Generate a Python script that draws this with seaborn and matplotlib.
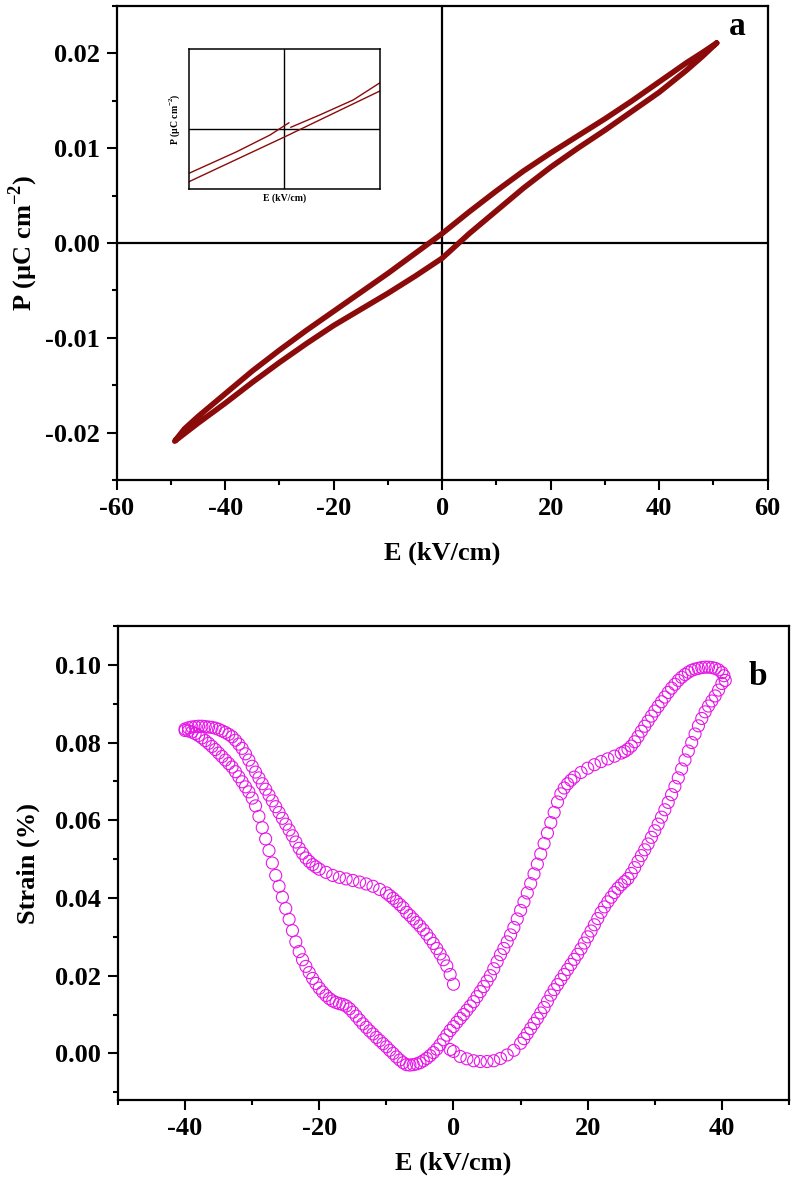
"""
P-E hysteresis loop (a) and strain-E butterfly loop (b)
"""
import matplotlib
matplotlib.use("Agg")
import matplotlib.pyplot as plt
from matplotlib.ticker import MultipleLocator, FormatStrFormatter
import seaborn as sns

# ---- panel a: P-E loop (kV/cm, uC/cm^2) ----
E_up = [50.6, 48, 45, 40, 35, 30, 25, 20, 15, 10, 5, 0, -5, -10, -15, -20,
        -25, -30, -35, -40, -45, -47.5, -49.3]
P_up = [0.0211, 0.0201, 0.0190, 0.0170, 0.0150, 0.0131, 0.0113, 0.0095, 0.0076,
        0.0055, 0.0033, 0.0010, -0.0011, -0.0032, -0.0052, -0.0072, -0.0092,
        -0.0113, -0.0135, -0.0159, -0.0183, -0.0196, -0.0209]
E_low = [-49.3, -47.5, -45, -40, -35, -30, -25, -20, -15, -10, -5, 0, 5, 10,
         15, 20, 25, 30, 35, 40, 45, 48, 50.6]
P_low = [-0.0209, -0.0201, -0.0190, -0.0169, -0.0147, -0.0126, -0.0106, -0.0087,
         -0.0070, -0.0053, -0.0035, -0.0016, 0.0010, 0.0034, 0.0058, 0.0080,
         0.0100, 0.0119, 0.0139, 0.0159, 0.0182, 0.0197, 0.0211]

# inset (zoom around origin, arbitrary units)
inset_E_up_left = [-10, -5.0, -1.5, 0.47]
inset_P_up_left = [-0.0022, -0.00112, -0.00028, 0.00033]
inset_E_up_right = [0.65, 3.7, 7.2, 10]
inset_P_up_right = [0.0001, 0.00072, 0.00147, 0.00233]
inset_E_low = [-10, 0.05, 10]
inset_P_low = [-0.00262, -0.00037, 0.00192]

# ---- panel b: strain loop, read branch by branch ----
E_b1 = [-0.5, 0, 1, 2, 3, 4, 5, 6, 7, 8, 9, 10, 10.5, 11, 11.5, 12, 12.5, 13,
        13.5, 14, 14.5, 15, 15.5, 16, 16.5, 17, 17.5, 18, 18.5, 19, 19.5, 20,
        20.5, 21, 21.5, 22, 22.5, 23, 23.5, 24, 24.5, 25, 25.5, 26, 26.5, 27,
        27.5, 28, 28.5, 29, 29.5, 30, 30.5, 31, 31.5, 32, 32.5, 33, 33.5, 34,
        34.5, 35, 35.5, 36, 36.5, 37, 37.5, 38, 38.5, 39, 39.5, 40]
S_b1 = [0.0010, 0.0005, -0.0008, -0.0014, -0.0019, -0.0021, -0.0021, -0.0019,
        -0.0013, -0.0004, 0.0008, 0.0026, 0.0038, 0.0051, 0.0064, 0.0077, 0.0090,
        0.0104, 0.0118, 0.0134, 0.0150, 0.0164, 0.0177, 0.0190, 0.0203, 0.0216,
        0.0229, 0.0242, 0.0255, 0.0269, 0.0284, 0.0300, 0.0315, 0.0331, 0.0347,
        0.0363, 0.0377, 0.0390, 0.0402, 0.0414, 0.0425, 0.0434, 0.0442, 0.0450,
        0.0463, 0.0478, 0.0494, 0.0509, 0.0524, 0.0539, 0.0556, 0.0573, 0.0590,
        0.0608, 0.0627, 0.0646, 0.0666, 0.0687, 0.0709, 0.0732, 0.0755, 0.0778,
        0.0800, 0.0822, 0.0843, 0.0862, 0.0879, 0.0894, 0.0907, 0.0920, 0.0935,
        0.0952]
E_b2 = [40.5, 40.3, 40, 39.5, 39, 38.5, 38, 37.5, 37, 36.5, 36, 35.5, 35, 34.5,
        34, 33.5, 33, 32.5, 32, 31.5, 31, 30.5, 30, 29.5, 29, 28.5, 28, 27.5, 27,
        26.5, 26, 25.5, 25, 24, 23, 22, 21, 20, 19, 18, 17.5, 17, 16.5, 16, 15.5,
        15, 14.5, 14, 13.5, 13, 12.5, 12, 11.5, 11, 10.5, 10, 9.5, 9, 8.5, 8, 7.5,
        7, 6.5, 6, 5.5, 5, 4.5, 4, 3.5, 3, 2.5, 2, 1.5, 1, 0.5, 0, -0.5, -1,
        -1.5, -2, -2.5, -3, -3.5, -4, -4.5, -5, -5.5, -6, -6.5, -7]
S_b2 = [0.0960, 0.0972, 0.0980, 0.0987, 0.0991, 0.0993, 0.0994, 0.0994, 0.0993,
        0.0991, 0.0989, 0.0986, 0.0981, 0.0975, 0.0968, 0.0960, 0.0950, 0.0940,
        0.0929, 0.0917, 0.0905, 0.0893, 0.0881, 0.0868, 0.0855, 0.0842, 0.0829,
        0.0815, 0.0802, 0.0791, 0.0783, 0.0777, 0.0773, 0.0765, 0.0758, 0.0751,
        0.0743, 0.0734, 0.0723, 0.0711, 0.0703, 0.0694, 0.0683, 0.0668, 0.0647,
        0.0620, 0.0594, 0.0567, 0.0540, 0.0513, 0.0487, 0.0462, 0.0437, 0.0413,
        0.0390, 0.0368, 0.0346, 0.0324, 0.0305, 0.0287, 0.0270, 0.0254, 0.0236,
        0.0218, 0.0200, 0.0186, 0.0172, 0.0159, 0.0146, 0.0133, 0.0122, 0.0111,
        0.0100, 0.0090, 0.0080, 0.0069, 0.0059, 0.0047, 0.0035, 0.0022, 0.0011,
        0.0002, -0.0006, -0.0013, -0.0019, -0.0024, -0.0027, -0.0029, -0.0030,
        -0.0029]
E_b3 = [-7.5, -8, -8.5, -9, -9.5, -10, -10.5, -11, -11.5, -12, -12.5, -13, -13.5,
        -14, -14.5, -15, -15.5, -16, -16.5, -17, -17.5, -18, -18.5, -19, -19.5,
        -20, -20.5, -21, -21.5, -22, -22.5, -23, -23.5, -24, -24.5, -25, -25.5,
        -26, -26.5, -27, -27.5, -28, -28.5, -29, -29.5, -30, -30.5, -31, -31.5,
        -32, -32.5, -33, -33.5, -34, -34.5, -35, -35.5, -36, -36.5, -37, -37.5,
        -38, -38.5, -39, -39.5, -40]
S_b3 = [-0.0024, -0.0017, -0.0009, 0.0000, 0.0008, 0.0017, 0.0025, 0.0033,
        0.0041, 0.0050, 0.0058, 0.0067, 0.0076, 0.0086, 0.0096, 0.0106, 0.0115,
        0.0122, 0.0126, 0.0128, 0.0131, 0.0135, 0.0141, 0.0149, 0.0158, 0.0168,
        0.0180, 0.0193, 0.0208, 0.0224, 0.0241, 0.0262, 0.0287, 0.0316, 0.0345,
        0.0373, 0.0402, 0.0430, 0.0458, 0.0490, 0.0522, 0.0552, 0.0581, 0.0610,
        0.0637, 0.0657, 0.0673, 0.0686, 0.0699, 0.0712, 0.0725, 0.0737, 0.0746,
        0.0755, 0.0764, 0.0773, 0.0782, 0.0790, 0.0798, 0.0805, 0.0812, 0.0818,
        0.0823, 0.0827, 0.0830, 0.0831]
E_b4 = [-40, -39.5, -39, -38.5, -38, -37.5, -37, -36.5, -36, -35.5, -35, -34.5,
        -34, -33.5, -33, -32.5, -32, -31.5, -31, -30.5, -30, -29.5, -29, -28.5,
        -28, -27.5, -27, -26.5, -26, -25.5, -25, -24.5, -24, -23.5, -23, -22.5,
        -22, -21.5, -21, -20.5, -20, -19, -18, -17, -16, -15, -14, -13, -12, -11,
        -10, -9.5, -9, -8.5, -8, -7.5, -7, -6.5, -6, -5.5, -5, -4.5, -4, -3.5,
        -3, -2.5, -2, -1.5, -1, -0.5, 0]
S_b4 = [0.0835, 0.0838, 0.0840, 0.0841, 0.0842, 0.0842, 0.0841, 0.0840, 0.0839,
        0.0837, 0.0834, 0.0830, 0.0826, 0.0821, 0.0815, 0.0806, 0.0796, 0.0785,
        0.0771, 0.0755, 0.0739, 0.0724, 0.0709, 0.0694, 0.0680, 0.0665, 0.0650,
        0.0635, 0.0620, 0.0605, 0.0590, 0.0575, 0.0560, 0.0544, 0.0528, 0.0515,
        0.0503, 0.0494, 0.0486, 0.0480, 0.0474, 0.0466, 0.0458, 0.0453, 0.0449,
        0.0445, 0.0441, 0.0436, 0.0430, 0.0422, 0.0413, 0.0406, 0.0399, 0.0391,
        0.0383, 0.0375, 0.0363, 0.0355, 0.0346, 0.0337, 0.0328, 0.0318, 0.0307,
        0.0295, 0.0283, 0.0270, 0.0256, 0.0241, 0.0225, 0.0203, 0.0178]

RED = "#8b0a0a"
MAGENTA = "#e616e6"

sns.set_style("ticks")
plt.rcParams["font.family"] = ["Liberation Serif", "DejaVu Serif"]
plt.rcParams["font.weight"] = "bold"
plt.rcParams["mathtext.fontset"] = "custom"
plt.rcParams["mathtext.rm"] = "Liberation Serif:bold"
plt.rcParams["mathtext.bf"] = "Liberation Serif:bold"
plt.rcParams["axes.unicode_minus"] = False
# plain black text and ticks, not seaborn's dark grey
for key in ["text.color", "axes.labelcolor", "xtick.color", "ytick.color",
            "axes.edgecolor"]:
    plt.rcParams[key] = "black"


def style_axes(ax):
    for sp in ax.spines.values():
        sp.set_linewidth(1.6)
        sp.set_color("black")
    ax.tick_params(which="both", direction="out", top=False, right=False,
                   width=1.5, color="black", labelcolor="black")
    ax.tick_params(which="major", length=7, labelsize=19, pad=5)
    ax.tick_params(which="minor", length=3.5)
    for lab in ax.get_xticklabels() + ax.get_yticklabels():
        lab.set_fontweight("bold")


fig = plt.figure(figsize=(7.92, 11.78), dpi=100)

# ---------------- panel a ----------------
ax1 = fig.add_axes([0.1473, 0.5925, 0.8220, 0.4024])
ax1.axhline(0, color="black", lw=1.6, zorder=1)
ax1.axvline(0, color="black", lw=1.6, zorder=1)
sns.lineplot(x=E_up + E_low, y=P_up + P_low, sort=False, estimator=None,
             color=RED, lw=4.0, ax=ax1, zorder=3)
ax1.set_xlim(-60, 60)
ax1.set_ylim(-0.025, 0.025)
ax1.xaxis.set_major_locator(MultipleLocator(20))
ax1.xaxis.set_minor_locator(MultipleLocator(10))
ax1.yaxis.set_major_locator(MultipleLocator(0.01))
ax1.yaxis.set_minor_locator(MultipleLocator(0.005))
ax1.yaxis.set_major_formatter(FormatStrFormatter("%.2f"))
ax1.set_yticks([-0.02, -0.01, 0.0, 0.01, 0.02])
style_axes(ax1)
ax1.set_xlabel("E (kV/cm)", fontsize=19, fontweight="bold")
ax1.set_ylabel(r"P (µC cm$^{-2}$)", fontsize=19, fontweight="bold")
ax1.xaxis.set_label_coords(0.5, -0.154)
ax1.xaxis.label.set_va("center")
ax1.yaxis.set_label_coords(-0.144, 0.5)
ax1.yaxis.label.set_va("center")
ax1.text(54.3, 0.0228, "a", fontsize=24, fontweight="bold", ha="center", va="center")

# inset
axin = fig.add_axes([0.2386, 0.8393, 0.2412, 0.1188])
axin.axhline(0, color="black", lw=1.0)
axin.axvline(0, color="black", lw=1.0)
for ex, py in [(inset_E_up_left, inset_P_up_left),
               (inset_E_up_right, inset_P_up_right),
               (inset_E_low, inset_P_low)]:
    sns.lineplot(x=ex, y=py, sort=False, estimator=None, color=RED, lw=1.0, ax=axin)
axin.set_xlim(-10, 10)
axin.set_ylim(-0.003, 0.004)
axin.set_xticks([])
axin.set_yticks([])
for sp in axin.spines.values():
    sp.set_linewidth(1.1)
    sp.set_color("black")
axin.set_xlabel("E (kV/cm)", fontsize=7, fontweight="bold", labelpad=3)
axin.set_ylabel(r"P (µC cm$^{-2}$)", fontsize=7, fontweight="bold", labelpad=5)

# ---------------- panel b ----------------
ax2 = fig.add_axes([0.1490, 0.0662, 0.8472, 0.4024])
E_strain = E_b1 + E_b2 + E_b3 + E_b4
strain = S_b1 + S_b2 + S_b3 + S_b4
sns.scatterplot(x=E_strain, y=strain, ax=ax2, marker="o", s=75,
                facecolors="none", edgecolor=MAGENTA, linewidth=0.8, zorder=3)
ax2.set_xlim(-50, 50)
ax2.set_ylim(-0.012, 0.11)
ax2.xaxis.set_major_locator(MultipleLocator(20))
ax2.xaxis.set_minor_locator(MultipleLocator(10))
ax2.yaxis.set_major_locator(MultipleLocator(0.02))
ax2.yaxis.set_minor_locator(MultipleLocator(0.01))
ax2.yaxis.set_major_formatter(FormatStrFormatter("%.2f"))
ax2.set_yticks([0.0, 0.02, 0.04, 0.06, 0.08, 0.10])
style_axes(ax2)
ax2.set_xlabel("E (kV/cm)", fontsize=19, fontweight="bold")
ax2.set_ylabel("Strain (%)", fontsize=19, fontweight="bold")
ax2.xaxis.set_label_coords(0.5, -0.133)
ax2.xaxis.label.set_va("center")
ax2.yaxis.set_label_coords(-0.134, 0.5)
ax2.yaxis.label.set_va("center")
ax2.text(45.3, 0.0971, "b", fontsize=24, fontweight="bold", ha="center", va="center")

fig.savefig("out.png", dpi=100)
plt.close(fig)
